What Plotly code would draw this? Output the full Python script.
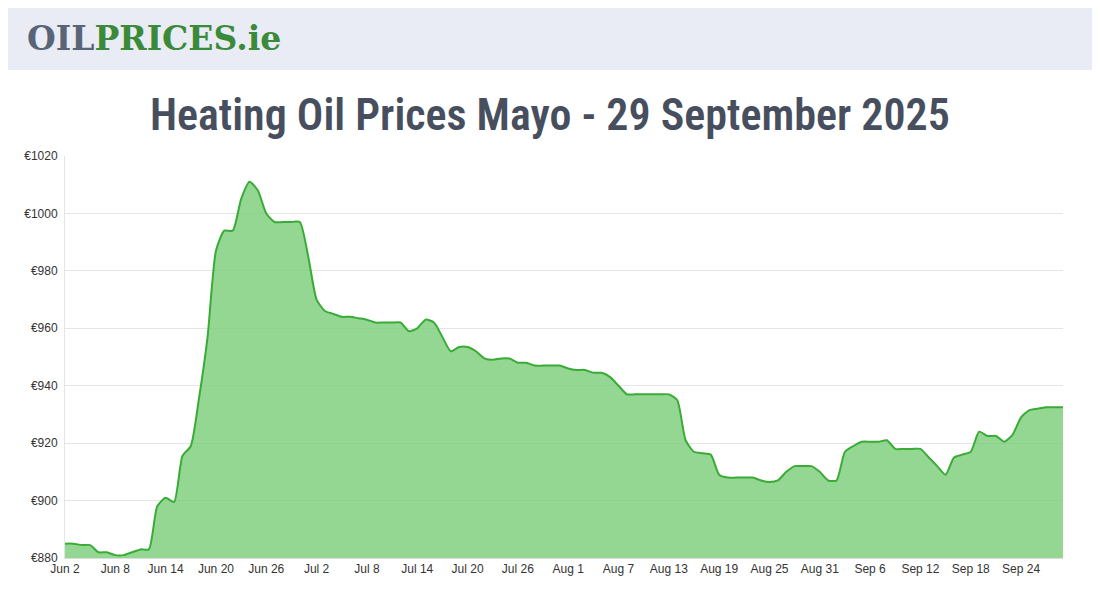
import plotly.graph_objects as go
import pandas as pd

start_date = "2025-06-02"
prices = [885, 885, 884.5, 884.5, 882, 882, 881, 881, 882, 883,
          883, 898, 901, 899.5, 915.5, 919, 936, 957, 987, 994,
          994, 1005, 1011, 1008, 1000, 997, 997, 997, 997, 985,
          970, 966, 965, 964, 964, 963.5, 963, 962, 962, 962,
          962, 959, 960, 963, 962, 957, 952, 953.5, 953.5, 952,
          949.5, 949, 949.5, 949.5, 948, 948, 947, 947, 947, 947,
          946, 945.5, 945.5, 944.5, 944.5, 943, 940, 937, 937, 937,
          937, 937, 937, 935, 921, 917, 916.5, 916, 909, 908,
          908, 908, 908, 907, 906.5, 907, 910, 912, 912, 912,
          910, 907, 907, 917, 919, 920.5, 920.5, 920.5, 921, 918,
          918, 918, 918, 915, 912, 909, 915, 916, 917, 924,
          922.5, 922.5, 920.5, 923, 929, 931.5, 932, 932.5, 932.5, 932.5]
dates = pd.date_range(start_date, periods=len(prices), freq="D")
tick_dates = pd.date_range(start_date, periods=20, freq="6D")
y_ticks = [880, 900, 920, 940, 960, 980, 1000, 1020]
y_labels = ["€" + str(v) for v in y_ticks]
title = "Heating Oil Prices Mayo - 29 September 2025"

W, H = 1084, 584
L, R, T, B = 57, 29, 148, 34
pw, ph = W - L - R, H - T - B

fig = go.Figure(go.Scatter(
    x=dates, y=prices, mode="lines", line=dict(color="#3aab36", width=2, shape="spline", smoothing=0.6),
    fill="tozeroy", fillcolor="rgba(120,205,120,0.8)", hoverinfo="skip"))

fig.update_layout(
    width=W, height=H, paper_bgcolor="white", plot_bgcolor="white",
    margin=dict(l=L, r=R, t=T, b=B), showlegend=False,
    font=dict(family="Liberation Sans, Arial", size=12, color="#333"),
    xaxis=dict(range=[dates[0], dates[-1]], tickvals=tick_dates, tickformat="%b %-d",
               showgrid=False, showline=True, linecolor="#ddd", ticks="", ticklen=0),
    yaxis=dict(range=[880, 1020], tickvals=y_ticks, ticktext=y_labels, gridcolor="#e5e5e5",
               zeroline=False, showline=True, linecolor="#e5e5e5", ticks="", ticklabelstandoff=4),
    shapes=[dict(type="rect", xref="paper", yref="paper", x0=-0.1, x1=1.1,
                 y0=1 + (T - 62)/ph, y1=1 + (T + 20)/ph, fillcolor="#e9ecf4", line_width=0, layer="below")],
    annotations=[
        dict(xref="paper", yref="paper", x=(17 - L)/pw, y=1 + (T - 30)/ph, xanchor="left", yanchor="middle",
             showarrow=False,
             text="<span style='color:#5a6478'>OIL</span><span style='color:#3a8a3a'>PRICES.ie</span>",
             font=dict(family="DejaVu Serif", size=33, weight=900)),
        dict(xref="paper", yref="paper", x=(542 - L)/pw, y=1 + (T - 107)/ph, xanchor="center", yanchor="middle",
             showarrow=False, text=title,
             font=dict(family="Roboto Condensed, Roboto, Open Sans", size=44, color="#474f5f", weight=600)),
    ])
fig.write_html("out.html")
